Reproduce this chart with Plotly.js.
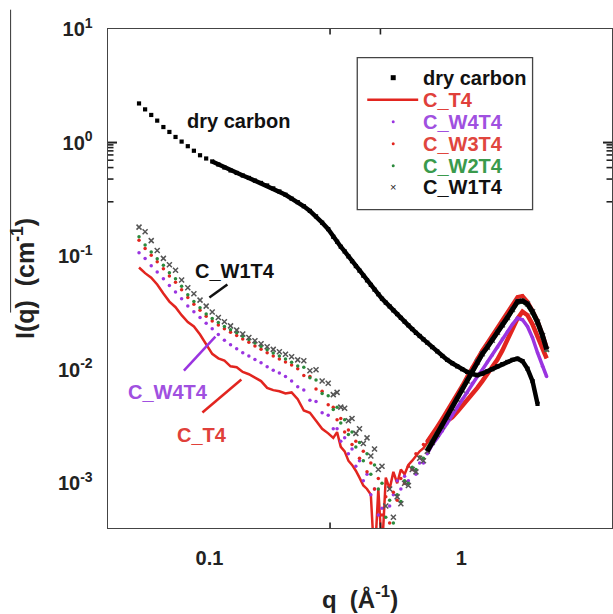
<!DOCTYPE html>
<html><head><meta charset="utf-8">
<script src="https://cdn.plot.ly/plotly-3.0.1.min.js"></script>
<style>html,body{margin:0;padding:0;background:#fff}#chart{width:613px;height:614px}</style>
</head><body><div id="chart"></div>
<script>
// shared q grid (Å^-1)
const q = [0.0525,0.0555,0.0587,0.0620,0.0656,0.0693,0.0733,0.0775,0.0820,0.0867,0.0917,0.0970,0.1025,0.1084,0.1146,0.1212,0.1282,0.1355,0.1433,0.1515,0.1602,0.1694,0.1791,0.1894,0.2003,0.2118,0.2240,0.2368,0.2504,0.2648,0.2800,0.2960,
0.310,0.321,0.332,0.344,0.356,0.368,0.381,0.394,0.408,0.422,0.437,0.452,0.468,0.484,0.501,0.519,0.537,0.556,0.575,0.595,0.616,0.638,0.660,0.683,0.707,
0.732,0.766,0.802,0.840,0.879,0.920,0.963,1.008,1.055,1.105,1.157,1.211,1.268,1.327,1.390,1.455,1.523,1.595,1.670,1.748,1.830,1.916,2.006,2.100,2.180];

const dryCarbon = [2.21,1.96,1.75,1.56,1.37,1.24,1.12,1.02,0.929,0.847,0.773,0.724,0.682,0.641,0.603,0.568,0.540,0.513,0.488,0.462,0.441,0.419,0.395,0.371,0.347,0.321,0.299,0.275,0.250,0.224,0.197,0.173,
0.148,0.134,0.121,0.110,0.0995,0.0902,0.0817,0.0745,0.0673,0.0612,0.0558,0.0507,0.0462,0.0422,0.0389,0.0361,0.0333,0.0309,0.0286,0.0265,0.0246,0.0228,0.0211,0.0198,0.0185,
0.0173,0.0158,0.0145,0.0132,0.0122,0.0114,0.0107,0.0101,0.00955,0.00916,0.00895,0.00923,0.00968,0.0101,0.0107,0.0112,0.0117,0.0122,0.0125,0.0119,0.0102,0.00794,0.0050,null,null];

const cT4 = [0.0794,0.0708,0.0646,0.0562,0.0468,0.0398,0.0355,0.0302,0.0263,0.0240,0.0204,0.0166,0.0138,0.0126,0.0120,0.0107,0.0105,0.00955,0.00912,0.00851,0.00794,0.00692,0.00661,0.00646,0.00617,0.00631,0.00550,0.00437,0.00417,0.00355,0.00302,0.00275,
0.00251,0.00282,0.00209,0.00191,0.00158,0.00145,0.00129,0.00112,0.000955,0.000891,0.000794,0.0002,0.000891,0.00025,0.00112,0.000891,0.00126,0.00100,0.00132,0.00120,0.00145,0.00158,0.00174,0.00191,0.00204,
0.00229,0.00263,0.00275,0.00324,0.00355,0.00380,0.00427,0.00479,0.00537,0.00617,0.00692,0.00794,0.00912,0.0107,0.0123,0.0148,0.0186,0.0229,0.0282,0.0324,0.0302,0.0251,0.0200,0.0158,0.0126];

const cW4T4 = [0.107,0.0955,0.0822,0.0724,0.0631,0.0550,0.0484,0.0422,0.0363,0.0324,0.0288,0.0257,0.0229,0.0204,0.0182,0.0166,0.0153,0.0141,0.0132,0.0123,0.0115,0.0106,0.00989,0.00933,0.00871,0.00794,0.00708,0.00661,0.00537,0.00525,0.00417,0.00398,
0.00302,0.00302,0.00234,0.00251,0.00182,0.00200,0.00141,0.00158,0.00105,0.00120,0.000794,0.000891,0.000525,0.000603,0.000380,0.000631,0.000794,0.00105,0.000891,0.00115,0.00105,0.00132,0.00120,0.00151,0.00151,
0.00182,0.00219,0.00251,0.00288,0.00339,0.00398,0.00468,0.00550,0.00631,0.00759,0.00871,0.0100,0.0117,0.0135,0.0158,0.0186,0.0216,0.0251,0.0285,0.0275,0.0240,0.0191,0.0141,0.0107,0.00871];

const cW3T4 = [0.138,0.117,0.102,0.0891,0.0776,0.0668,0.0589,0.0507,0.0432,0.0376,0.0333,0.0295,0.0269,0.0248,0.0229,0.0214,0.0200,0.0186,0.0174,0.0162,0.0151,0.0141,0.0132,0.0124,0.0117,0.0110,0.0102,0.00891,0.00871,0.00676,0.00646,0.00490,
0.00468,0.00363,0.00372,0.00282,0.00295,0.00219,0.00234,0.00166,0.00191,0.00126,0.00151,0.000891,0.00110,0.000525,0.000759,0.000447,0.000832,0.000708,0.00110,0.00100,0.00141,0.00132,0.00182,0.00170,0.00219,
0.00234,0.00269,0.00316,0.00372,0.00437,0.00513,0.00603,0.00724,0.00871,0.0105,0.0126,0.0148,0.0172,0.0200,0.0232,0.0269,0.0313,0.0367,0.0437,0.0447,0.0398,0.0331,0.0269,0.0204,0.0158];

const cW2T4 = [0.148,0.125,0.109,0.0946,0.0832,0.0714,0.0631,0.0543,0.0457,0.0398,0.0351,0.0309,0.0283,0.0260,0.0240,0.0225,0.0212,0.0197,0.0184,0.0172,0.0160,0.0150,0.0140,0.0132,0.0124,0.0116,0.0108,0.0105,0.00851,0.00813,0.00617,0.00589,
0.00447,0.00468,0.00339,0.00363,0.00269,0.00282,0.00209,0.00229,0.00158,0.00182,0.00120,0.00145,0.000891,0.00100,0.000501,0.000708,0.000447,0.000794,0.000692,0.00105,0.00100,0.00138,0.00132,0.00170,0.00166,
0.00200,0.00234,0.00275,0.00324,0.00389,0.00468,0.00562,0.00676,0.00813,0.00977,0.0117,0.0136,0.0158,0.0182,0.0211,0.0245,0.0285,0.0335,0.0389,0.0398,0.0372,0.0316,0.0257,0.0195,0.0148];

const cW1T4 = [0.180,0.164,0.137,0.112,0.0955,0.0841,0.0750,0.0617,0.0527,0.0466,0.0410,0.0363,0.0322,0.0288,0.0264,0.0243,0.0223,0.0206,0.0192,0.0180,0.0169,0.0159,0.0151,0.0144,0.0137,0.0130,0.0122,0.0120,0.00977,0.0100,0.00794,0.00759,
0.00603,0.00631,0.00468,0.00457,0.00355,0.00372,0.00275,0.00302,0.00224,0.00251,0.00174,0.00200,0.00132,0.00141,0.000631,0.000891,0.000501,0.000759,0.000661,0.00100,0.000955,0.00132,0.00126,0.00166,0.00158,
0.00191,0.00229,0.00269,0.00316,0.00380,0.00457,0.00550,0.00661,0.00794,0.00955,0.0117,0.0138,0.0158,0.0182,0.0214,0.0248,0.0288,0.0339,0.0398,0.0403,0.0380,0.0324,0.0263,0.0200,0.0151];

const seriesNames = ['dry carbon','C_T4','C_W4T4','C_W3T4','C_W2T4','C_W1T4'];
const xTickVals = [0.1, 1];
const xTickText = ['0.1', '1'];
const yTickVals = [0.001, 0.01, 0.1, 1, 10];
const yTickText = ['10<sup>-3</sup>','10<sup>-2</sup>','10<sup>-1</sup>','10<sup>0</sup>','10<sup>1</sup>'];
const xMinor = [0.04,0.05,0.06,0.07,0.08,0.09,0.2,0.3,0.4,0.5,0.6,0.7,0.8,0.9,2,3];
const yMinor = [5e-4,6e-4,7e-4,8e-4,9e-4,2e-3,3e-3,4e-3,5e-3,6e-3,7e-3,8e-3,9e-3,0.02,0.03,0.04,0.05,0.06,0.07,0.08,0.09,0.2,0.3,0.4,0.5,0.6,0.7,0.8,0.9,2,3,4,5,6,7,8,9];

const FONT = 'Liberation Sans, Arial, Helvetica, sans-serif';
const RED = '#e2251f', PURPLE = '#9a34e0', GREEN = '#2b8a3c', GRAY = '#555';
const XRANGE = [-1.403, 0.598], YRANGE = [-3.394, 1.0];

// pixel -> paper helpers for decorations
const L = 107.5, R = 612, T = 29.3, B = 528.5;
const PW = R - L, PH = B - T;
const px = x => (x - L) / PW;
const py = y => (B - y) / PH;

function pick(arr, qmin) {
  const xs = [], ys = [];
  q.forEach((v, i) => { if (v >= qmin && arr[i] != null) { xs.push(v); ys.push(arr[i]); } });
  return {x: xs, y: ys};
}

const traces = [];
traces.push({x: q, y: cT4, mode: 'lines', line: {color: RED, width: 2.5}, name: seriesNames[1]});
let h = pick(cT4, 0.73); traces.push({x: h.x, y: h.y, mode: 'lines', line: {color: RED, width: 4.5}});
traces.push({x: q, y: cW4T4, mode: 'markers', marker: {color: PURPLE, size: 3.5}, name: seriesNames[2]});
h = pick(cW4T4, 0.73); traces.push({x: h.x, y: h.y, mode: 'lines', line: {color: PURPLE, width: 3.5}});
traces.push({x: q, y: cW3T4, mode: 'markers', marker: {color: RED, size: 3.5}, name: seriesNames[3]});
h = pick(cW3T4, 0.73); traces.push({x: h.x, y: h.y, mode: 'lines', line: {color: RED, width: 4}});
traces.push({x: q, y: cW2T4, mode: 'markers', marker: {color: GREEN, size: 3.5}, name: seriesNames[4]});
h = pick(cW2T4, 0.73); traces.push({x: h.x, y: h.y, mode: 'lines', line: {color: GREEN, width: 4}});
traces.push({x: q, y: cW1T4, mode: 'markers', marker: {symbol: 'x-thin', size: 5, line: {color: GRAY, width: 1.5}}, name: seriesNames[5]});
h = pick(cW1T4, 0.73); traces.push({x: h.x, y: h.y, mode: 'lines', line: {color: '#000', width: 5}});
traces.push({x: q, y: dryCarbon, mode: 'markers', marker: {symbol: 'square', color: '#000', size: 4.2}, name: seriesNames[0]});
h = pick(dryCarbon, 0.1); traces.push({x: h.x, y: h.y, mode: 'lines', line: {color: '#000', width: 4.5}});
traces.forEach(t => { t.showlegend = false; t.hoverinfo = 'x+y'; });

function txt(x, y, text, color, anchor) {
  return {xref: 'paper', yref: 'paper', x: px(x), y: py(y), text: text, showarrow: false,
    xanchor: anchor || 'center', yanchor: 'middle',
    font: {family: FONT, size: 20, color: color, weight: 700}};
}
function seg(x0, y0, x1, y1, color, w) {
  return {type: 'line', xref: 'paper', yref: 'paper', x0: px(x0), y0: py(y0), x1: px(x1), y1: py(y1),
    line: {color: color, width: w}};
}
const legendColors = ['#111', '#e0403a', '#a050e0', '#e0463e', '#3a9a4c', '#111'];
const legendY = [78, 100, 122, 144, 166, 187];

const annotations = [
  txt(238.5, 121, 'dry carbon', '#111'),
  txt(235, 271, 'C_W1T4', '#111'),
  txt(167.5, 392, 'C_W4T4', '#a050e0'),
  txt(202, 435, 'C_T4', '#e0403a')
];
seriesNames.forEach((n, i) => annotations.push(txt(421, legendY[i], n, legendColors[i], 'left')));
annotations.push({xref: 'paper', yref: 'paper', x: px(393), y: py(187), text: '×', showarrow: false,
  xanchor: 'center', yanchor: 'middle', font: {family: FONT, size: 11, color: '#222'}});

const TICKC = '#222';
// inside tick marks on all four sides, placed through the axes' log scales
const tickShapes = [];
function xTick(v, len, w) {
  const lv = Math.log10(v), f = len / PH;
  tickShapes.push({type: 'line', xref: 'x', yref: 'paper', x0: lv, x1: lv, y0: 0, y1: f, line: {color: TICKC, width: w}});
  tickShapes.push({type: 'line', xref: 'x', yref: 'paper', x0: lv, x1: lv, y0: 1, y1: 1 - f, line: {color: TICKC, width: w}});
}
function yTick(v, len, w) {
  const lv = Math.log10(v), f = len / PW;
  tickShapes.push({type: 'line', xref: 'paper', yref: 'y', x0: 0, x1: f, y0: lv, y1: lv, line: {color: TICKC, width: w}});
  tickShapes.push({type: 'line', xref: 'paper', yref: 'y', x0: 1, x1: 1 - f, y0: lv, y1: lv, line: {color: TICKC, width: w}});
}
xTickVals.forEach(v => xTick(v, 9, 2));
xMinor.forEach(v => xTick(v, 5.5, 1.6));
yTickVals.forEach(v => yTick(v, 9, 2));
yMinor.forEach(v => yTick(v, 5.5, 1.6));

const shapes = tickShapes.concat([
  {type: 'rect', xref: 'paper', yref: 'paper', x0: px(357), y0: py(58), x1: px(532.5), y1: py(210),
   line: {color: '#444', width: 1.3}, fillcolor: 'white', layer: 'above'},
  seg(227, 285, 209, 298, '#111', 2.5),
  seg(183.5, 371, 215, 337, PURPLE, 2.5),
  seg(202, 413, 241, 380, RED, 2.5),
  seg(367, 100, 418, 100, RED, 2.5),
  {type: 'rect', xref: 'paper', yref: 'paper', x0: px(390.5), y0: py(75.5), x1: px(395.5), y1: py(80.5),
   fillcolor: '#000', line: {width: 0}},
  {type: 'circle', xref: 'paper', yref: 'paper', x0: px(391.5), y0: py(120.5), x1: px(394.5), y1: py(123.5),
   fillcolor: PURPLE, line: {width: 0}},
  {type: 'circle', xref: 'paper', yref: 'paper', x0: px(391.5), y0: py(142.5), x1: px(394.5), y1: py(145.5),
   fillcolor: RED, line: {width: 0}},
  {type: 'circle', xref: 'paper', yref: 'paper', x0: px(391.5), y0: py(164.5), x1: px(394.5), y1: py(167.5),
   fillcolor: GREEN, line: {width: 0}},
  seg(10, 10, 10, 313, '#333', 1)
]);

const axisCommon = {
  type: 'log', showgrid: false, zeroline: false, showline: true, linecolor: '#444', linewidth: 1.4,
  mirror: true, ticks: '', tickmode: 'array', tickfont: {family: FONT, size: 20, color: '#222', weight: 700}
};

const layout = {
  width: 613, height: 614,
  margin: {l: L, r: 613 - R, t: T, b: 614 - B, pad: 0},
  paper_bgcolor: '#fff', plot_bgcolor: '#fff',
  showlegend: false,
  font: {family: FONT, color: '#222'},
  xaxis: Object.assign({}, axisCommon, {
    range: XRANGE, tickvals: xTickVals, ticktext: xTickText, ticklabelstandoff: 12,
    title: {text: 'q&nbsp;&nbsp;(Å<sup>-1</sup>)', font: {family: FONT, size: 24, color: '#222', weight: 700}, standoff: 22}
  }),
  yaxis: Object.assign({}, axisCommon, {
    range: YRANGE, tickvals: yTickVals, ticktext: yTickText, ticklabelstandoff: 10,
    title: {text: 'I(q)&nbsp;&nbsp;(cm<sup>-1</sup>)', font: {family: FONT, size: 25, color: '#222', weight: 700}, standoff: 16}
  }),
  annotations: annotations,
  shapes: shapes
};

Plotly.newPlot('chart', traces, layout, {displayModeBar: false, staticPlot: true});
</script>
</body></html>
